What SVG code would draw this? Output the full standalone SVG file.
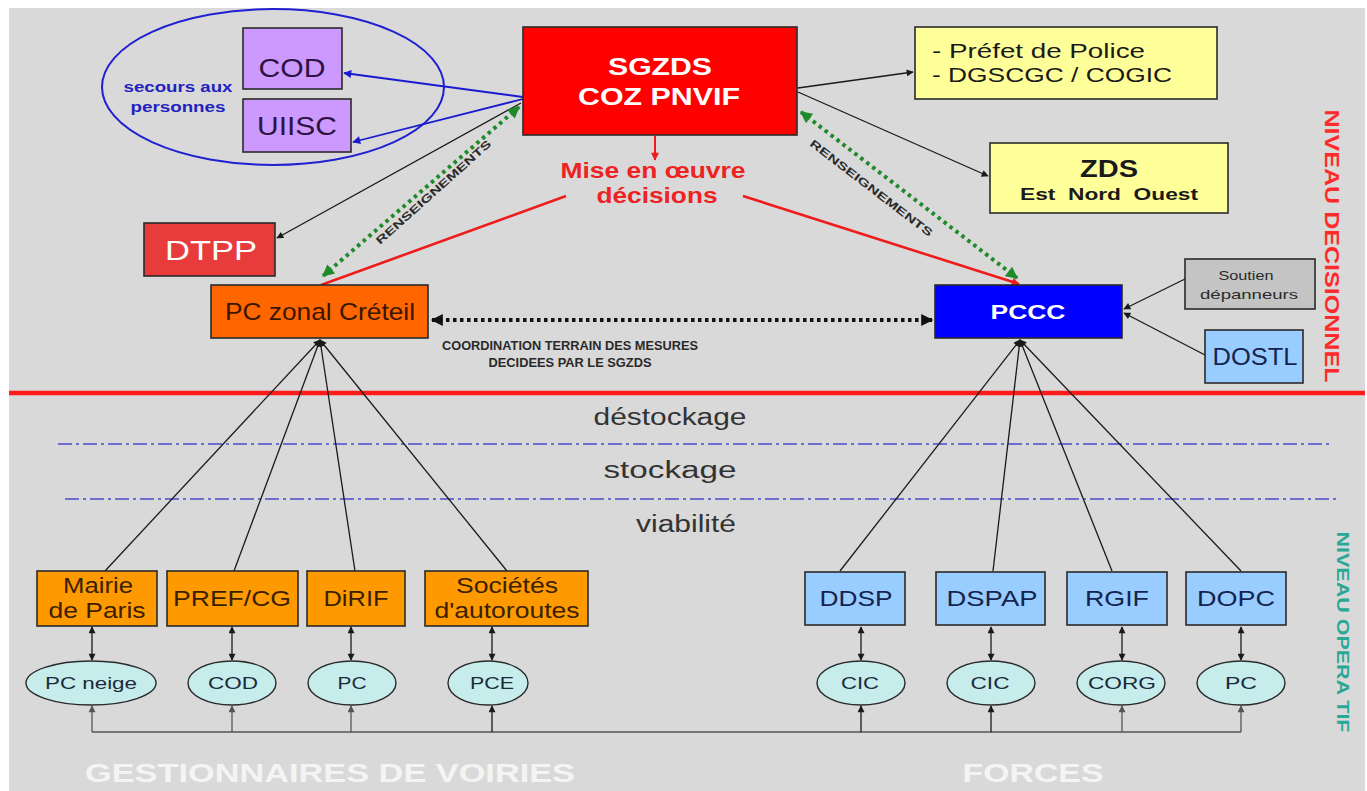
<svg xmlns="http://www.w3.org/2000/svg" width="1367" height="791" viewBox="0 0 1367 791">
<defs>
<style>
text{font-family:"Liberation Sans",Arial,sans-serif}
.box{stroke:#2a2a2a;stroke-width:1.6}
.ell{fill:#c6ecec;stroke:#2a2a2a;stroke-width:1.4}
.blk{stroke:#1a1a1a;stroke-width:1.3;fill:none}
.gry{stroke:#555;stroke-width:1.3;fill:none}
.org{fill:#ff9900}
.lb{fill:#99ccff}
.ot{fill:#3a1f00;font-size:22px;text-anchor:middle}
.bt{fill:#14244e;font-size:22px;text-anchor:middle}
.et{fill:#1a2a3a;font-size:16px;text-anchor:middle}
.lvl{fill:#333;font-size:23px;text-anchor:middle}
.dash{stroke:#4a4ad0;stroke-width:1.5;stroke-dasharray:14 4 3 4}
</style>
<marker id="ab" viewBox="0 0 10 10" refX="9" refY="5" markerWidth="9" markerHeight="7" markerUnits="userSpaceOnUse" orient="auto-start-reverse"><path d="M0,0 L10,5 L0,10 z" fill="#1a1a1a"/></marker>
<marker id="ag" viewBox="0 0 10 10" refX="9" refY="5" markerWidth="9" markerHeight="7" markerUnits="userSpaceOnUse" orient="auto-start-reverse"><path d="M0,0 L10,5 L0,10 z" fill="#555"/></marker>
<marker id="abl" viewBox="0 0 10 10" refX="9" refY="5" markerWidth="10" markerHeight="8" markerUnits="userSpaceOnUse" orient="auto-start-reverse"><path d="M0,0 L10,5 L0,10 z" fill="#1a1ad0"/></marker>
<marker id="agr" viewBox="0 0 10 10" refX="9" refY="5" markerWidth="14" markerHeight="12" markerUnits="userSpaceOnUse" orient="auto-start-reverse"><path d="M0,0 L10,5 L0,10 z" fill="#1f8a2a"/></marker>
<marker id="ar" viewBox="0 0 10 10" refX="9" refY="5" markerWidth="9" markerHeight="8" markerUnits="userSpaceOnUse" orient="auto-start-reverse"><path d="M0,0 L10,5 L0,10 z" fill="#ee1c1c"/></marker>
<marker id="abig" viewBox="0 0 10 10" refX="9" refY="5" markerWidth="14" markerHeight="12" markerUnits="userSpaceOnUse" orient="auto-start-reverse"><path d="M0,0 L10,5 L0,10 z" fill="#111"/></marker>
</defs>

<rect x="0" y="0" width="1367" height="791" fill="#ffffff"/>
<rect x="9" y="8" width="1356" height="783" fill="#d9d9d9"/>

<!-- level separators -->
<g id="levels">
<line x1="9" y1="393" x2="1365" y2="393" stroke="#ff1a1a" stroke-width="4.5"/>
<line class="dash" x1="58" y1="444" x2="1332" y2="444"/>
<line class="dash" x1="65" y1="499" x2="1340" y2="499"/>
<text class="lvl" x="670" y="425" textLength="153" lengthAdjust="spacingAndGlyphs">déstockage</text>
<text class="lvl" x="670" y="478" textLength="133" lengthAdjust="spacingAndGlyphs">stockage</text>
<text class="lvl" x="686" y="532" textLength="100" lengthAdjust="spacingAndGlyphs">viabilité</text>
<text transform="translate(1325,246) rotate(90)" x="0" y="0" fill="#ff2a2a" font-size="20" font-weight="bold" text-anchor="middle" textLength="273" lengthAdjust="spacingAndGlyphs">NIVEAU DECISIONNEL</text>
<text transform="translate(1337,632) rotate(90)" x="0" y="0" fill="#2aa896" font-size="17" font-weight="bold" text-anchor="middle" textLength="201" lengthAdjust="spacingAndGlyphs">NIVEAU OPERA TIF</text>
<text x="330" y="782" fill="#f4f4f4" font-size="25" font-weight="bold" text-anchor="middle" textLength="490" lengthAdjust="spacingAndGlyphs">GESTIONNAIRES DE VOIRIES</text>
<text x="1033" y="782" fill="#f4f4f4" font-size="25" font-weight="bold" text-anchor="middle" textLength="141" lengthAdjust="spacingAndGlyphs">FORCES</text>
</g>

<!-- secours ellipse -->
<g id="secours">
<ellipse cx="273" cy="87" rx="171" ry="78" fill="none" stroke="#2020d0" stroke-width="2"/>
<text x="178" y="92" fill="#2222c0" font-size="14" font-weight="bold" text-anchor="middle" textLength="109" lengthAdjust="spacingAndGlyphs">secours aux</text>
<text x="178" y="112" fill="#2222c0" font-size="14" font-weight="bold" text-anchor="middle" textLength="95" lengthAdjust="spacingAndGlyphs">personnes</text>
</g>

<!-- connectors -->
<g id="connectors">
<line x1="523" y1="97" x2="344" y2="73" stroke="#1a1ad0" stroke-width="1.8" marker-end="url(#abl)"/>
<line x1="523" y1="99" x2="353" y2="142" stroke="#1a1ad0" stroke-width="1.8" marker-end="url(#abl)"/>
<line class="blk" x1="521" y1="103" x2="277" y2="238" marker-end="url(#ab)" stroke-width="1.5"/>
<line class="blk" x1="798" y1="88" x2="913" y2="72" marker-end="url(#ab)" stroke-width="1.5"/>
<line class="blk" x1="798" y1="92" x2="988" y2="176" marker-end="url(#ab)" stroke-width="1.5"/>
<line x1="519" y1="107" x2="323" y2="276" stroke="#1f8a2a" stroke-width="4" stroke-dasharray="3.5 4" marker-start="url(#agr)" marker-end="url(#agr)"/>
<line x1="801" y1="112" x2="1017" y2="278" stroke="#1f8a2a" stroke-width="4" stroke-dasharray="3.5 4" marker-start="url(#agr)" marker-end="url(#agr)"/>
<text transform="translate(436,195) rotate(-41.8)" x="0" y="0" fill="#2a2a2a" font-size="11" font-weight="bold" text-anchor="middle" textLength="150" lengthAdjust="spacingAndGlyphs">RENSEIGNEMENTS</text>
<text transform="translate(869,191) rotate(37.5)" x="0" y="0" fill="#2a2a2a" font-size="11" font-weight="bold" text-anchor="middle" textLength="151" lengthAdjust="spacingAndGlyphs">RENSEIGNEMENTS</text>
<line x1="655" y1="136" x2="655" y2="160" stroke="#ee1c1c" stroke-width="2" marker-end="url(#ar)"/>
<text x="653" y="178" fill="#ee2222" font-size="22" font-weight="bold" text-anchor="middle" textLength="185" lengthAdjust="spacingAndGlyphs">Mise en œuvre</text>
<text x="657" y="203" fill="#ee2222" font-size="22" font-weight="bold" text-anchor="middle" textLength="121" lengthAdjust="spacingAndGlyphs">décisions</text>
<line x1="566" y1="196" x2="321" y2="285" stroke="#ee1c1c" stroke-width="2.6"/>
<line x1="743" y1="196" x2="1019" y2="284" stroke="#ee1c1c" stroke-width="2.6" marker-end="url(#ar)"/>
<line x1="432" y1="320" x2="932" y2="320" stroke="#111" stroke-width="4" stroke-dasharray="3.5 3.5" marker-start="url(#abig)" marker-end="url(#abig)"/>
<text x="570" y="350" fill="#2a2a2a" font-size="12" font-weight="bold" text-anchor="middle" textLength="256" lengthAdjust="spacingAndGlyphs">COORDINATION TERRAIN DES MESURES</text>
<text x="570" y="367" fill="#2a2a2a" font-size="12" font-weight="bold" text-anchor="middle" textLength="163" lengthAdjust="spacingAndGlyphs">DECIDEES PAR LE SGZDS</text>
<line class="blk" x1="1185" y1="279" x2="1124" y2="309" marker-end="url(#ab)"/>
<line class="blk" x1="1205" y1="355" x2="1124" y2="313" marker-end="url(#ab)"/>
<line class="blk" x1="105" y1="571" x2="320" y2="340" marker-end="url(#ab)"/>
<line class="blk" x1="234" y1="571" x2="320" y2="340" marker-end="url(#ab)"/>
<line class="blk" x1="355" y1="571" x2="320" y2="340" marker-end="url(#ab)"/>
<line class="blk" x1="507" y1="571" x2="320" y2="340" marker-end="url(#ab)"/>
<line class="blk" x1="840" y1="571" x2="1020" y2="340" marker-end="url(#ab)"/>
<line class="blk" x1="993" y1="571" x2="1020" y2="340" marker-end="url(#ab)"/>
<line class="blk" x1="1112" y1="571" x2="1020" y2="340" marker-end="url(#ab)"/>
<line class="blk" x1="1241" y1="571" x2="1020" y2="340" marker-end="url(#ab)"/>
<g class="blk">
<line x1="92" y1="627" x2="92" y2="660" marker-start="url(#ab)" marker-end="url(#ab)"/>
<line x1="232" y1="627" x2="232" y2="660" marker-start="url(#ab)" marker-end="url(#ab)"/>
<line x1="351" y1="627" x2="351" y2="660" marker-start="url(#ab)" marker-end="url(#ab)"/>
<line x1="492" y1="627" x2="492" y2="660" marker-start="url(#ab)" marker-end="url(#ab)"/>
<line x1="861" y1="627" x2="861" y2="660" marker-start="url(#ab)" marker-end="url(#ab)"/>
<line x1="991" y1="627" x2="991" y2="660" marker-start="url(#ab)" marker-end="url(#ab)"/>
<line x1="1122" y1="627" x2="1122" y2="660" marker-start="url(#ab)" marker-end="url(#ab)"/>
<line x1="1241" y1="627" x2="1241" y2="660" marker-start="url(#ab)" marker-end="url(#ab)"/>
</g>
<polyline class="gry" points="92,732 1241,732"/>
<g class="gry">
<line x1="92" y1="732" x2="92" y2="706" marker-end="url(#ag)"/>
<line x1="232" y1="732" x2="232" y2="706" marker-end="url(#ag)"/>
<line x1="351" y1="732" x2="351" y2="706" marker-end="url(#ag)"/>
<line x1="492" y1="732" x2="492" y2="706" marker-end="url(#ab)" stroke="#1a1a1a"/>
<line x1="861" y1="732" x2="861" y2="706" marker-end="url(#ab)" stroke="#1a1a1a"/>
<line x1="991" y1="732" x2="991" y2="706" marker-end="url(#ab)" stroke="#1a1a1a"/>
<line x1="1122" y1="732" x2="1122" y2="706" marker-end="url(#ag)"/>
<line x1="1241" y1="732" x2="1241" y2="706" marker-end="url(#ag)"/>
</g>
</g>

<!-- decision level nodes -->
<g id="node-cod"><rect class="box" x="243" y="28" width="99" height="61" fill="#cc99ff"/><text x="292" y="77" fill="#2e1240" font-size="25" text-anchor="middle" textLength="67" lengthAdjust="spacingAndGlyphs">COD</text></g>
<g id="node-uiisc"><rect class="box" x="243" y="99" width="108" height="53" fill="#cc99ff"/><text x="297" y="135" fill="#2e1240" font-size="25" text-anchor="middle" textLength="80" lengthAdjust="spacingAndGlyphs">UIISC</text></g>
<g id="node-sgzds"><rect class="box" x="523" y="27" width="274" height="108" fill="#ff0000"/>
<text x="660" y="75" fill="#ffffff" font-size="24" font-weight="bold" text-anchor="middle" textLength="104" lengthAdjust="spacingAndGlyphs">SGZDS</text>
<text x="659" y="105" fill="#ffffff" font-size="24" font-weight="bold" text-anchor="middle" textLength="162" lengthAdjust="spacingAndGlyphs">COZ PNVIF</text></g>
<g id="node-prefet"><rect class="box" x="915" y="27" width="302" height="72" fill="#ffff99"/>
<text x="932" y="58" fill="#1a1a1a" font-size="21" textLength="213" lengthAdjust="spacingAndGlyphs">- Préfet de Police</text>
<text x="932" y="82" fill="#1a1a1a" font-size="21" textLength="240" lengthAdjust="spacingAndGlyphs">- DGSCGC / COGIC</text></g>
<g id="node-zds"><rect class="box" x="990" y="143" width="238" height="70" fill="#ffff99"/>
<text x="1109" y="177" fill="#1a1a1a" font-size="24" font-weight="bold" text-anchor="middle" textLength="58" lengthAdjust="spacingAndGlyphs">ZDS</text>
<text x="1109" y="200" fill="#1a1a1a" font-size="16" font-weight="bold" text-anchor="middle" textLength="178" lengthAdjust="spacingAndGlyphs" xml:space="preserve" style="white-space:pre">Est  Nord  Ouest</text></g>
<g id="node-dtpp"><rect class="box" x="144" y="223" width="131" height="53" fill="#e83c3c"/><text x="211" y="260" fill="#ffffff" font-size="28" text-anchor="middle" textLength="92" lengthAdjust="spacingAndGlyphs">DTPP</text></g>
<g id="node-pczonal"><rect class="box" x="211" y="285" width="217" height="53" fill="#ff6600"/><text x="320" y="320" fill="#3a1600" font-size="24" text-anchor="middle" textLength="190" lengthAdjust="spacingAndGlyphs">PC zonal Créteil</text></g>
<g id="node-pccc"><rect class="box" x="935" y="285" width="187" height="53" fill="#0000ff"/><text x="1028" y="319" fill="#ffffff" font-size="21" font-weight="bold" text-anchor="middle" textLength="75" lengthAdjust="spacingAndGlyphs">PCCC</text></g>
<g id="node-soutien"><rect class="box" x="1185" y="259" width="130" height="50" fill="#c4c4c4"/>
<text x="1246" y="280" fill="#2a2a2a" font-size="13" text-anchor="middle" textLength="55" lengthAdjust="spacingAndGlyphs">Soutien</text>
<text x="1249" y="299" fill="#2a2a2a" font-size="13" text-anchor="middle" textLength="98" lengthAdjust="spacingAndGlyphs">dépanneurs</text></g>
<g id="node-dostl"><rect class="box lb" x="1205" y="330" width="98" height="53"/><text x="1255" y="365" fill="#14244e" font-size="23" text-anchor="middle" textLength="85" lengthAdjust="spacingAndGlyphs">DOSTL</text></g>

<!-- operational level: gestionnaires -->
<g id="node-mairie"><rect class="box org" x="37" y="571" width="120" height="55"/>
<text class="ot" x="98" y="593" textLength="70" lengthAdjust="spacingAndGlyphs">Mairie</text>
<text class="ot" x="97" y="618" textLength="97" lengthAdjust="spacingAndGlyphs">de Paris</text></g>
<g id="node-prefcg"><rect class="box org" x="167" y="571" width="131" height="55"/><text class="ot" x="232" y="606" textLength="118" lengthAdjust="spacingAndGlyphs">PREF/CG</text></g>
<g id="node-dirif"><rect class="box org" x="307" y="571" width="98" height="55"/><text class="ot" x="356" y="606" textLength="65" lengthAdjust="spacingAndGlyphs">DiRIF</text></g>
<g id="node-societes"><rect class="box org" x="425" y="571" width="163" height="55"/>
<text class="ot" x="507" y="593" textLength="102" lengthAdjust="spacingAndGlyphs">Sociétés</text>
<text class="ot" x="507" y="618" textLength="145" lengthAdjust="spacingAndGlyphs">d'autoroutes</text></g>

<g id="node-pcneige"><ellipse class="ell" cx="91" cy="683" rx="65" ry="22"/><text class="et" x="91" y="689" textLength="92" lengthAdjust="spacingAndGlyphs">PC neige</text></g>
<g id="node-cod2"><ellipse class="ell" cx="232" cy="683" rx="44" ry="22"/><text class="et" x="233" y="689" textLength="50" lengthAdjust="spacingAndGlyphs">COD</text></g>
<g id="node-pc1"><ellipse class="ell" cx="352" cy="683" rx="44" ry="22"/><text class="et" x="352" y="689" textLength="29" lengthAdjust="spacingAndGlyphs">PC</text></g>
<g id="node-pce"><ellipse class="ell" cx="488" cy="683" rx="40" ry="22"/><text class="et" x="492" y="689" textLength="44" lengthAdjust="spacingAndGlyphs">PCE</text></g>

<!-- operational level: forces -->
<g id="node-ddsp"><rect class="box lb" x="805" y="572" width="100" height="53"/><text class="bt" x="856" y="606" textLength="73" lengthAdjust="spacingAndGlyphs">DDSP</text></g>
<g id="node-dspap"><rect class="box lb" x="936" y="572" width="109" height="53"/><text class="bt" x="992" y="606" textLength="91" lengthAdjust="spacingAndGlyphs">DSPAP</text></g>
<g id="node-rgif"><rect class="box lb" x="1067" y="572" width="100" height="53"/><text class="bt" x="1117" y="606" textLength="64" lengthAdjust="spacingAndGlyphs">RGIF</text></g>
<g id="node-dopc"><rect class="box lb" x="1186" y="572" width="100" height="53"/><text class="bt" x="1236" y="606" textLength="78" lengthAdjust="spacingAndGlyphs">DOPC</text></g>

<g id="node-cic1"><ellipse class="ell" cx="861" cy="683" rx="44" ry="22"/><text class="et" x="860" y="689" textLength="38" lengthAdjust="spacingAndGlyphs">CIC</text></g>
<g id="node-cic2"><ellipse class="ell" cx="991" cy="683" rx="44" ry="22"/><text class="et" x="990" y="689" textLength="39" lengthAdjust="spacingAndGlyphs">CIC</text></g>
<g id="node-corg"><ellipse class="ell" cx="1121" cy="683" rx="44" ry="22"/><text class="et" x="1122" y="689" textLength="68" lengthAdjust="spacingAndGlyphs">CORG</text></g>
<g id="node-pc2"><ellipse class="ell" cx="1241" cy="683" rx="44" ry="22"/><text class="et" x="1241" y="689" textLength="32" lengthAdjust="spacingAndGlyphs">PC</text></g>
</svg>
